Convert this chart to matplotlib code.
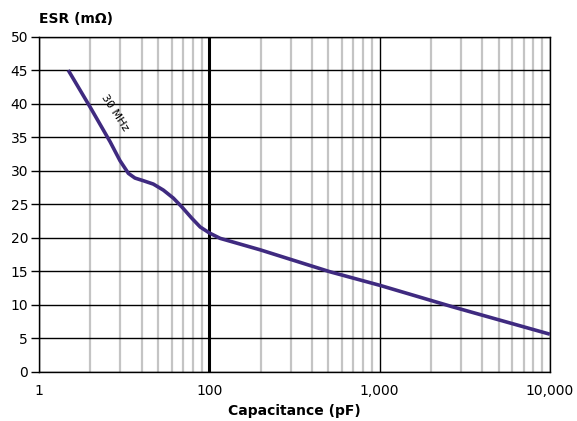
import matplotlib
matplotlib.use("Agg")
import matplotlib.pyplot as plt
from matplotlib.ticker import FixedLocator, NullFormatter

plt.rcParams['font.family'] = ['DejaVu Sans']

# ESR vs capacitance at 30 MHz
capacitance_pf = [14.8, 20.0, 26.1, 29.8, 33.4, 36.5, 40.9, 46.8, 53.6, 61.4,
                  68.8, 78.8, 88.2, 100, 115.6, 198, 513, 1000, 2670, 10000]
esr_mohm = [45.0, 39.4, 34.3, 31.5, 29.6, 28.9, 28.5, 28.0, 27.1, 25.9,
            24.6, 22.9, 21.6, 20.7, 19.9, 18.2, 14.9, 12.9, 9.7, 5.6]

x_ticks = [10, 100, 1000, 10000]
x_tick_labels = ["1", "100", "1,000", "10,000"]
y_ticks = [0, 5, 10, 15, 20, 25, 30, 35, 40, 45, 50]
minor_x = [m * d for d in (10, 100, 1000) for m in range(2, 10)]

fig = plt.figure(figsize=(5.77, 4.21), dpi=100)
ax = fig.add_axes([0.068, 0.117, 0.885, 0.796])

ax.set_xscale("log")
ax.set_xlim(10, 10000)
ax.set_ylim(0, 50)

ax.xaxis.set_major_locator(FixedLocator(x_ticks))
ax.set_xticklabels(x_tick_labels)
ax.xaxis.set_minor_locator(FixedLocator(minor_x))
ax.xaxis.set_minor_formatter(NullFormatter())
ax.set_yticks(y_ticks)

# grid
ax.grid(which='minor', axis='x', color='#c4c4c4', linewidth=1.6)
ax.grid(which='major', axis='x', color='black', linewidth=1.0)
ax.grid(which='major', axis='y', color='black', linewidth=1.0)
ax.set_axisbelow(True)
for tick in ax.xaxis.get_major_ticks():
    if tick.get_loc() == 100:
        tick.gridline.set_linewidth(2.2)

ax.tick_params(axis='x', which='both', length=0, pad=9, labelsize=10)
ax.tick_params(axis='y', length=6, width=1, color='black', labelsize=10, pad=2)

for spine in ax.spines.values():
    spine.set_color('black')
    spine.set_linewidth(1.0)

ax.plot(capacitance_pf, esr_mohm, color='#3f2a80', linewidth=2.6,
        solid_capstyle='butt', zorder=3)

ax.text(27.8, 38.6, "30 MHz", rotation=-57, rotation_mode='anchor',
        ha='center', va='center', fontsize=8, zorder=4)

fig.text(0.068, 0.955, "ESR (m\u03a9)", fontsize=10, fontweight='bold',
         ha='left', va='center')
ax.set_xlabel("Capacitance (pF)", fontsize=10, fontweight='bold', labelpad=4)

fig.savefig("out.png", dpi=100)
